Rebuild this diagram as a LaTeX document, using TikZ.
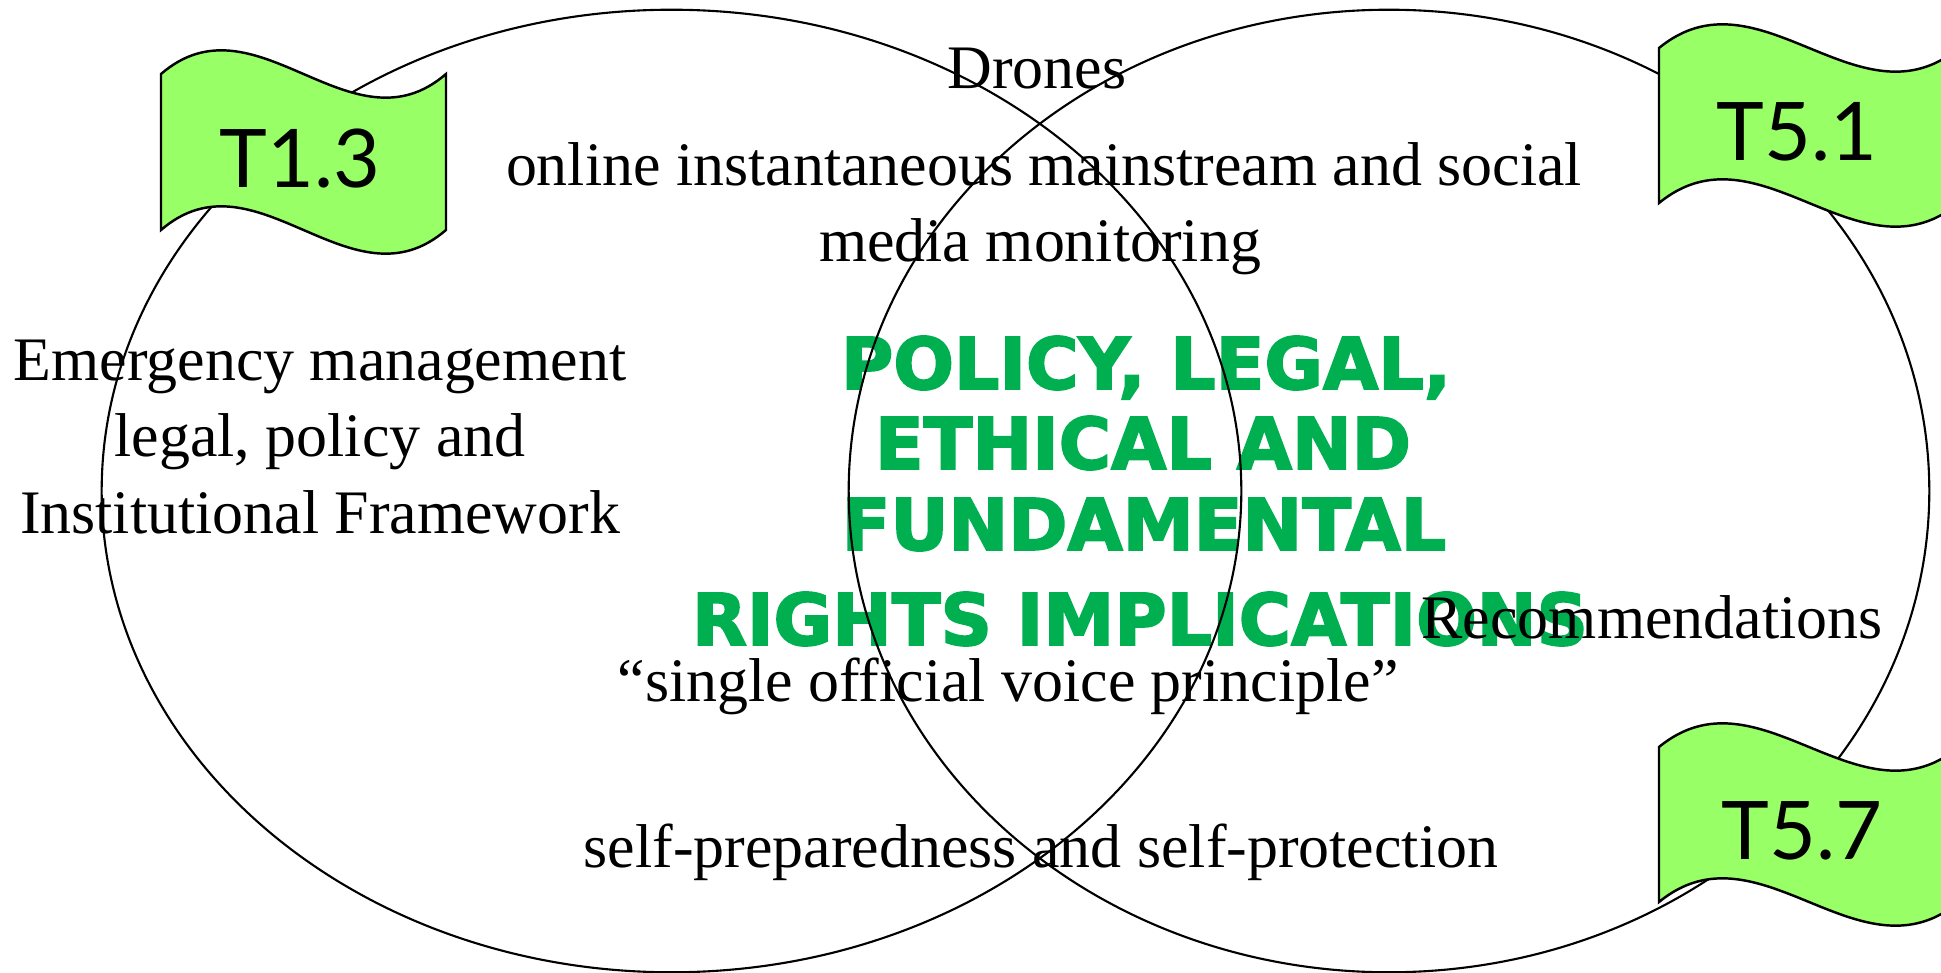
\documentclass[tikz,border=0pt]{standalone}
\usepackage{fontspec}
\setmainfont{Liberation Serif}
\newfontfamily\titlefont{DejaVu Sans}[BoldFeatures={FakeBold=2.5}]
\newfontfamily\flagfont{Lato}
\usetikzlibrary{shapes.geometric}
\definecolor{titlegreen}{HTML}{00B050}
\definecolor{flaggreen}{HTML}{99FF66}
\tikzset{
  venn/.style={draw=black, line width=0.6pt, ellipse, minimum width=11.39cm, minimum height=9.62cm, inner sep=0pt},
  vennR/.style={draw=black, line width=0.6pt, ellipse, minimum width=10.80cm, minimum height=9.62cm, inner sep=0pt},
  body/.style={anchor=base, inner sep=0pt, font=\fontsize{17.6}{21.6}\selectfont},
  title/.style={anchor=base, inner sep=0pt, text=titlegreen, font=\titlefont\bfseries\fontsize{20.3}{22.8}\selectfont},
  flagshape/.style={draw=black, line width=0.7pt, fill=flaggreen},
  flagtext/.style={inner sep=0pt, font=\flagfont\fontsize{23}{26}\selectfont}
}
\newcommand{\waveflag}[4]{% left, top, width, height
  \path[flagshape] (#1,#2) .. controls ({#1+#3/3},{#2-82}) and ({#1+2*#3/3},{#2+82}) .. ({#1+#3},#2)
    -- ({#1+#3},{#2+#4}) .. controls ({#1+2*#3/3},{#2+#4+82}) and ({#1+#3/3},{#2+#4-82}) .. (#1,{#2+#4}) -- cycle;
}
\begin{document}
\begin{tikzpicture}[x=0.01cm, y=-0.01cm]
\useasboundingbox (0,0) rectangle (1941,973);
\clip (0,0) rectangle (1941,973);
% title
\node[title] (ti1) at (1146,389) {POLICY, LEGAL,};
\node[title] (ti2) at (1143,469) {ETHICAL AND};
\node[title] (ti3) at (1144,550) {FUNDAMENTAL};
\node[title] (ti4) at (1140,645) {RIGHTS IMPLICATIONS};
% body texts
\node[body] (drones) at (1037,89) {Drones};
\node[body] (online) at (1044,186) {online instantaneous mainstream and social};
\node[body] (media) at (1040,262) {media monitoring};
\node[body] (em1) at (320,381) {Emergency management};
\node[body] (em2) at (320,457) {legal, policy and};
\node[body] (em3) at (320,534) {Institutional Framework};
\node[body] (rec) at (1652,638) {Recommendations};
\node[body] (single) at (1008,702) {``single official voice principle''};
\node[body] (selfp) at (1041,867) {self-preparedness and self-protection};
% ellipses
\node[venn] (left) at (671.5,491) {};
\node[vennR] (right) at (1389,491) {};
% flags
\waveflag{161}{74}{285}{156}
\node[flagtext] (t13) at (300,159) {T1.3};
\waveflag{1659}{48}{300}{155}
\node[flagtext] (t51) at (1797,132) {T5.1};
\waveflag{1659}{747}{300}{155}
\node[flagtext] (t57) at (1802,831) {T5.7};
\end{tikzpicture}
\end{document}
